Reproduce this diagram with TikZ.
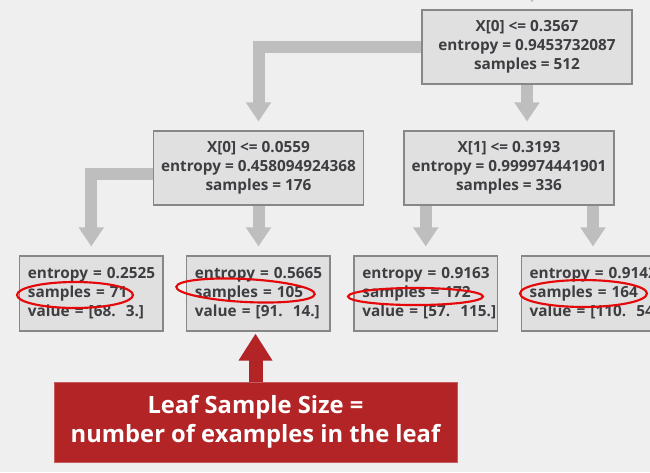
\documentclass[tikz,border=0pt]{standalone}
\usepackage{fontspec}
\setmainfont{Open Sans}
\usetikzlibrary{arrows.meta,calc}
\definecolor{pagegray}{RGB}{239,239,239}
\definecolor{boxgray}{RGB}{224,224,224}
\definecolor{edgegray}{RGB}{135,135,135}
\definecolor{bargray}{RGB}{190,190,190}
\definecolor{textgray}{RGB}{62,62,66}
\definecolor{notered}{RGB}{178,36,38}
\definecolor{ringred}{RGB}{228,8,10}

\begin{document}
\begin{tikzpicture}[x=0.75pt, y=-0.75pt,
  split/.style={rectangle, draw=edgegray, fill=boxgray, line width=0.8pt, inner sep=0pt,
                minimum width=157.5pt, minimum height=55.5pt, align=center, text=textgray,
                font=\fontsize{11.5}{14.25}\selectfont\bfseries},
  leaf/.style={split, minimum width=107.6pt, minimum height=56.25pt, text width=95pt, align=left},
  conn/.style={-{Triangle[width=18pt,length=14.25pt]}, line width=9pt, bargray, shorten >=6.75pt},
  ring/.style={ringred, line width=1.6pt},
  note/.style={rectangle, fill=notered, draw=notered!75!white, text=white, inner sep=0pt,
               minimum width=302.25pt, minimum height=60pt, align=center,
               font=\fontsize{17.8}{21.75}\selectfont\bfseries},
  notearrow/.style={-{Triangle[width=24pt,length=20.25pt]}, line width=10.5pt, notered, shorten >=1.5pt}
]
\fill[pagegray] (0,0) rectangle (650,472);
\clip (0,0) rectangle (650,472);

% Split nodes
\node[split] (root) at (527,47) {X[0] <= 0.3567\\entropy = 0.9453732087\\samples = 512};
\node[split] (midl) at (258.5,168) {X[0] <= 0.0559\\entropy = 0.458094924368\\samples = 176};
\node[split] (midr) at (509,168) {X[1] <= 0.3193\\entropy = 0.999974441901\\samples = 336};

% Leaves
\node[leaf] (leafa) at (91.25,293.5) {\begin{tabular}{@{}l@{}}entropy = 0.2525\\samples = 71\\value = [68.~~3.]\end{tabular}};
\node[leaf] (leafb) at (258.25,293.5) {\begin{tabular}{@{}l@{}}entropy = 0.5665\\samples = 105\\value = [91.~~14.]\end{tabular}};
\node[leaf] (leafc) at (425.75,293.5) {\begin{tabular}{@{}l@{}}entropy = 0.9163\\samples = 172\\value = [57.~~115.]\end{tabular}};
\node[leaf] (leafd) at (593,293.5) {\begin{tabular}{@{}l@{}}entropy = 0.9142\\samples = 164\\value = [110.~~54.]\end{tabular}};

% Tree connectors
\coordinate (upper) at (532,-30);
\draw[conn, shorten >=5.25pt] (upper) -- (upper |- root.north);
\draw[conn] (root.west) -| (midl.north);
\draw[conn] (root.south) -- (root.south |- midl.north);
\draw[conn] ($(midl.west)+(0,6)$) -| (leafa.north);
\draw[conn] (midl.south) -- (midl.south |- leafb.north);
\draw[conn] (leafc.north |- midr.south) -- (leafc.north);
\draw[conn] (leafd.north |- midr.south) -- (leafd.north);

% Hand-drawn rings round the sample counts
\draw[ring] (75,295) ellipse [x radius=43.5pt, y radius=9.75pt];
\draw[ring, rotate around={-3:(245.5,290.5)}] (245.5,290.5) ellipse [x radius=52pt, y radius=8.6pt];
\draw[ring] (415.5,296.5) ellipse [x radius=50.6pt, y radius=6.4pt];
\draw[ring] (583.5,293.5) ellipse [x radius=47.6pt, y radius=10.1pt];

% Callout
\node[note] (note) at (255.5,422) {Leaf Sample Size =\\number of examples in the leaf};
\draw[notearrow] (note.north) -- (note.north |- leafb.south);
\end{tikzpicture}
\end{document}
